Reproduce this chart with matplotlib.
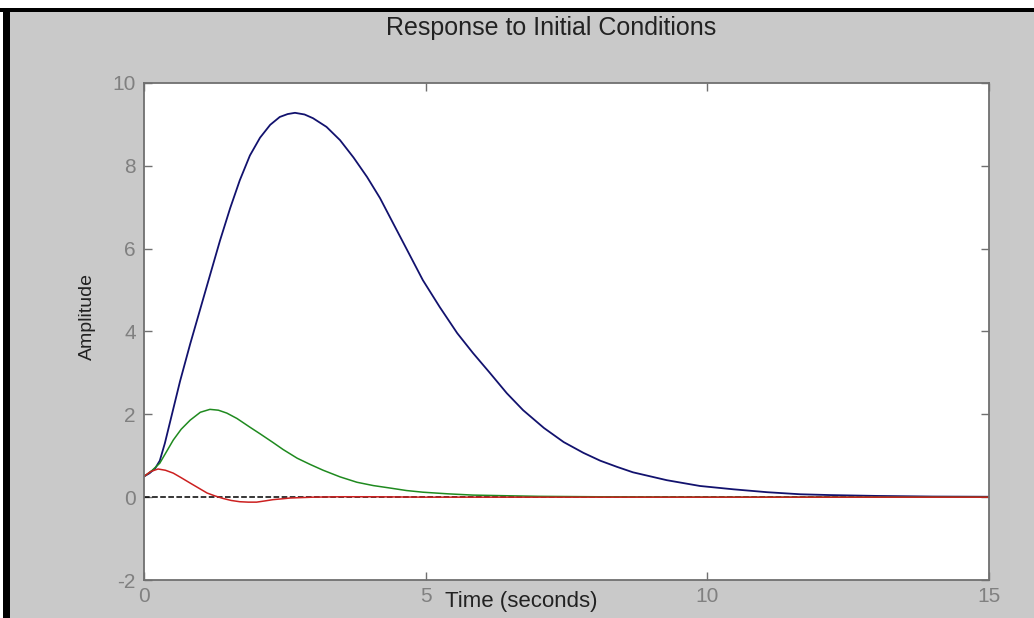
import matplotlib.pyplot as plt
from matplotlib.patches import Rectangle

plt.rcParams['font.family'] = ['Liberation Sans', 'DejaVu Sans']
plt.rcParams['axes.unicode_minus'] = False

# response curves (time in s, amplitude)
t_blue = [0, 0.1, 0.2, 0.28, 0.37, 0.46, 0.55, 0.64, 0.82, 1.0, 1.18, 1.35,
          1.53, 1.7, 1.88, 2.06, 2.24, 2.41, 2.55, 2.68, 2.85, 3.0, 3.24,
          3.48, 3.72, 3.96, 4.19, 4.42, 4.67, 4.95, 5.25, 5.56, 5.84, 6.14,
          6.44, 6.73, 7.1, 7.45, 7.8, 8.1, 8.4, 8.68, 9.28, 9.87, 10.46,
          11.06, 11.65, 12.2, 13.0, 14.0, 15.0]
y_blue = [0.5, 0.58, 0.7, 0.88, 1.3, 1.8, 2.3, 2.8, 3.7, 4.55, 5.4, 6.2,
          6.98, 7.65, 8.25, 8.68, 8.99, 9.18, 9.25, 9.28, 9.24, 9.15, 8.94,
          8.62, 8.2, 7.73, 7.22, 6.62, 5.97, 5.24, 4.59, 3.96, 3.48, 3.0,
          2.51, 2.1, 1.67, 1.33, 1.07, 0.88, 0.73, 0.6, 0.41, 0.27, 0.19,
          0.12, 0.07, 0.05, 0.03, 0.015, 0.01]

t_green = [0, 0.14, 0.28, 0.4, 0.52, 0.66, 0.82, 1.0, 1.17, 1.32, 1.47, 1.65,
           1.88, 2.06, 2.29, 2.47, 2.72, 2.95, 3.18, 3.48, 3.78, 4.07, 4.37,
           4.66, 4.95, 5.4, 5.84, 6.4, 7.0, 8.0, 10.0, 15.0]
y_green = [0.5, 0.64, 0.82, 1.1, 1.38, 1.64, 1.86, 2.05, 2.12, 2.1, 2.03, 1.9,
           1.69, 1.53, 1.32, 1.15, 0.94, 0.79, 0.65, 0.49, 0.36, 0.28, 0.22,
           0.16, 0.12, 0.08, 0.05, 0.035, 0.02, 0.01, 0.0, 0.0]

t_red = [0, 0.12, 0.25, 0.38, 0.52, 0.66, 0.82, 0.97, 1.12, 1.26, 1.4, 1.55,
         1.7, 1.85, 2.0, 2.15, 2.29, 2.45, 2.6, 3.0, 3.5, 4.0, 5.0, 15.0]
y_red = [0.5, 0.62, 0.68, 0.65, 0.58, 0.47, 0.34, 0.22, 0.1, 0.03, -0.03,
         -0.08, -0.11, -0.12, -0.12, -0.09, -0.06, -0.04, -0.02, 0.0, 0.01,
         0.01, 0.0, 0.0]

xticks = [0, 5, 10, 15]
yticks = [-2, 0, 2, 4, 6, 8, 10]

W, H = 1034, 618
fig = plt.figure(figsize=(W / 100, H / 100), dpi=100, facecolor='#c9c9c9')
ax = fig.add_axes([144 / W, 1 - 580 / H, 845 / W, 497 / H])

ax.plot([0, 15], [0, 0], 'k--', lw=1.1)
ax.plot(t_blue, y_blue, color='#12126e', lw=1.3)
ax.plot(t_green, y_green, color='#1f8a1f', lw=1.1)
ax.plot(t_red, y_red, color='#cc2020', lw=1.1)

ax.set_xlim(0, 15)
ax.set_ylim(-2, 10)
ax.set_xticks(xticks)
ax.set_yticks(yticks)
ax.tick_params(direction='in', top=True, right=True, length=6, width=1,
               color='#707070', labelcolor='#808080', labelsize=15)
ax.tick_params(axis='x', pad=5)
ax.tick_params(axis='y', pad=6)
for s in ax.spines.values():
    s.set_color('#707070')
    s.set_linewidth(1.3)

fig.text(551 / W, 1 - 28 / H, 'Response to Initial Conditions',
         ha='center', va='center', fontsize=18, color='#222222')
fig.text(87 / W, 1 - 316 / H, 'Amplitude', rotation=90,
         ha='center', va='center', fontsize=14, color='#222222')
fig.text(521 / W, 1 - 601 / H, 'Time (seconds)',
         ha='center', va='center', fontsize=16, color='#222222')

# window frame: white strip, then black line on top and left
fig.patches.append(Rectangle((0, 1 - 8 / H), 1, 8 / H, transform=fig.transFigure,
                             facecolor='white', edgecolor='none'))
fig.patches.append(Rectangle((0, 0), 3 / W, 1, transform=fig.transFigure,
                             facecolor='white', edgecolor='none'))
fig.patches.append(Rectangle((0, 1 - 12 / H), 1, 4 / H, transform=fig.transFigure,
                             facecolor='black', edgecolor='none'))
fig.patches.append(Rectangle((3 / W, 0), 7 / W, 1 - 8 / H, transform=fig.transFigure,
                             facecolor='black', edgecolor='none'))

fig.savefig('out.png', dpi=100, facecolor=fig.get_facecolor())
